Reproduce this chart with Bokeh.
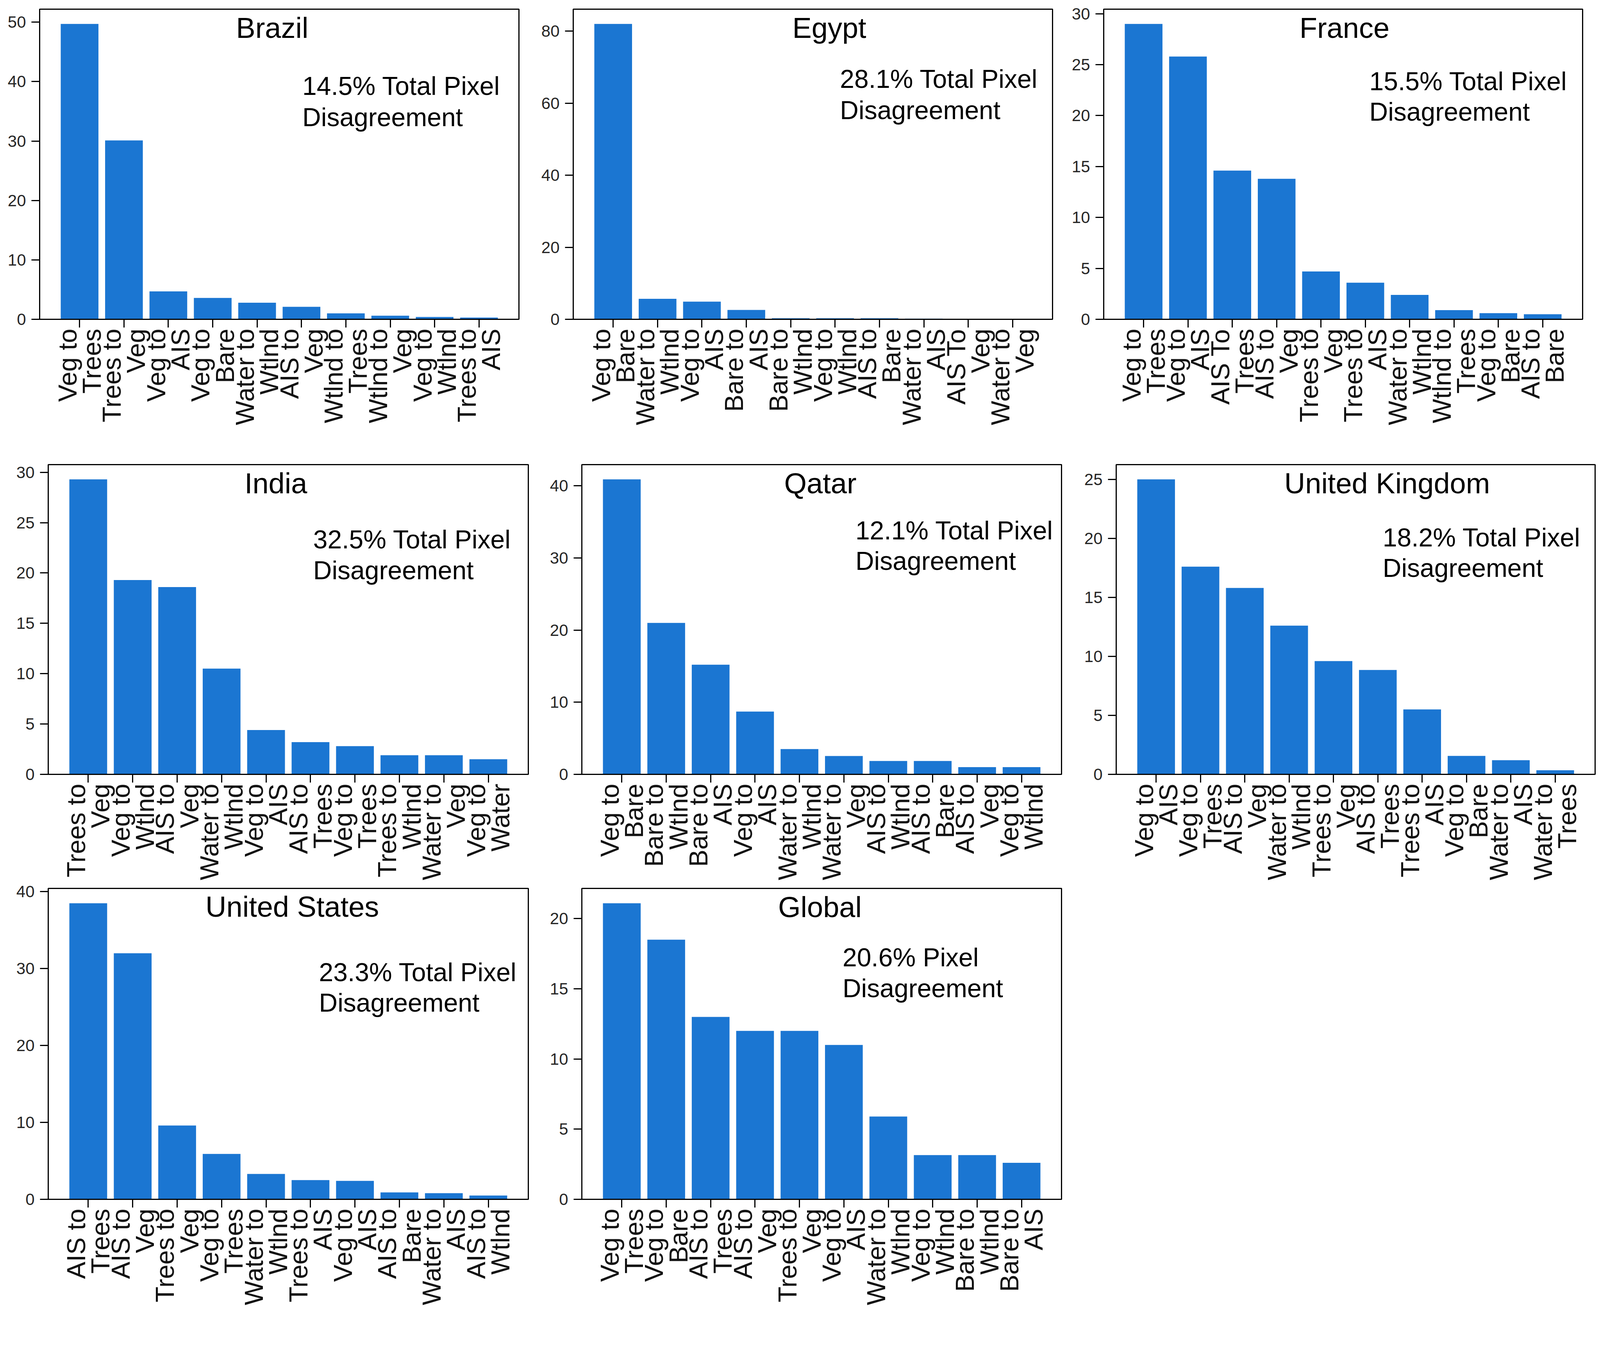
from math import pi

from bokeh.embed import file_html
from bokeh.layouts import column, row
from bokeh.models import FactorRange, Label, Range1d, SingleIntervalTicker
from bokeh.plotting import figure
from bokeh.resources import INLINE

BLUE = "#1b76d2"
FONT = "Liberation Sans"
SCALE = 0.969  # the page came out a little larger than planned; shrink the geometry

# --- data (percent of disagreeing pixels) ---
brazil_labels = ["Veg to\nTrees", "Trees to\nVeg", "Veg to\nAIS", "Veg to\nBare", "Water to\nWtlnd",
                 "AIS to\nVeg", "Wtlnd to\nTrees", "Wtlnd to\nVeg", "Veg to\nWtlnd", "Trees to\nAIS"]
brazil_values = [49.7, 30.1, 4.7, 3.6, 2.8, 2.1, 1.0, 0.6, 0.4, 0.3]

egypt_labels = ["Veg to\nBare", "Water to\nWtlnd", "Veg to\nAIS", "Bare to\nAIS", "Bare to\nWtlnd",
                "Veg to\nWtlnd", "AIS to\nBare", "Water to\nAIS", "AIS To\nVeg", "Water to\nVeg"]
egypt_values = [82.0, 5.7, 4.9, 2.6, 0.3, 0.3, 0.3, 0.2, 0.0, 0.0]

france_labels = ["Veg to\nTrees", "Veg to\nAIS", "AIS To\nTrees", "AIS to\nVeg", "Trees to\nVeg",
                 "Trees to\nAIS", "Water to\nWtlnd", "Wtlnd to\nTrees", "Veg to\nBare", "AIS to\nBare"]
france_values = [29.0, 25.8, 14.6, 13.8, 4.7, 3.6, 2.4, 0.9, 0.6, 0.5]

india_labels = ["Trees to\nVeg", "Veg to\nWtlnd", "AIS to\nVeg", "Water to\nWtlnd", "Veg to\nAIS",
                "AIS to\nTrees", "Veg to\nTrees", "Trees to\nWtlnd", "Water to\nVeg", "Veg to\nWater"]
india_values = [29.3, 19.3, 18.6, 10.5, 4.4, 3.2, 2.8, 1.9, 1.9, 1.5]

qatar_labels = ["Veg to\nBare", "Bare to\nWtlnd", "Bare to\nAIS", "Veg to\nAIS", "Water to\nWtlnd",
                "Water to\nVeg", "AIS to\nWtlnd", "AIS to\nBare", "AIS to\nVeg", "Veg to\nWtlnd"]
qatar_values = [40.9, 21.0, 15.2, 8.7, 3.5, 2.55, 1.85, 1.85, 1.0, 1.0]

uk_labels = ["Veg to\nAIS", "Veg to\nTrees", "AIS to\nVeg", "Water to\nWtlnd", "Trees to\nVeg",
             "AIS to\nTrees", "Trees to\nAIS", "Veg to\nBare", "Water to\nAIS", "Water to\nTrees"]
uk_values = [25.0, 17.6, 15.8, 12.6, 9.6, 8.85, 5.5, 1.56, 1.2, 0.35]

us_labels = ["AIS to\nTrees", "AIS to\nVeg", "Trees to\nVeg", "Veg to\nTrees", "Water to\nWtlnd",
             "Trees to\nAIS", "Veg to\nAIS", "AIS to\nBare", "Water to\nAIS", "AIS to\nWtlnd"]
us_values = [38.5, 32.0, 9.6, 5.9, 3.3, 2.5, 2.4, 0.9, 0.8, 0.5]

global_labels = ["Veg to\nTrees", "Veg to\nBare", "AIS to\nTrees", "AIS to\nVeg", "Trees to\nVeg",
                 "Veg to\nAIS", "Water to\nWtlnd", "Veg to\nWtlnd", "Bare to\nWtlnd", "Bare to\nAIS"]
global_values = [21.1, 18.5, 13.0, 12.0, 12.0, 11.0, 5.9, 3.15, 3.15, 2.6]

titles = ["Brazil", "Egypt", "France", "India", "Qatar", "United Kingdom", "United States", "Global"]
notes = [("14.5% Total Pixel", "Disagreement"), ("28.1% Total Pixel", "Disagreement"),
         ("15.5% Total Pixel", "Disagreement"), ("32.5% Total Pixel", "Disagreement"),
         ("12.1% Total Pixel", "Disagreement"), ("18.2% Total Pixel", "Disagreement"),
         ("23.3% Total Pixel", "Disagreement"), ("20.6% Pixel", "Disagreement")]
tick_steps = [10, 20, 5, 5, 10, 5, 10, 5]

series = [(brazil_labels, brazil_values), (egypt_labels, egypt_values), (france_labels, france_values),
          (india_labels, india_values), (qatar_labels, qatar_values), (uk_labels, uk_values),
          (us_labels, us_values), (global_labels, global_values)]

# --- layout: (width, height, left, right, top, bottom) of each figure ---
geometry = [
    (1410, 1190, 104, 39, 24, 347), (1399, 1190, 104, 29, 24, 347), (1423, 1190, 106, 52, 24, 347),
    (1430, 1142, 127, 35, 37, 287), (1410, 1142, 106, 36, 37, 287), (1392, 1142, 108, 19, 37, 287),
    (1430, 1168, 127, 35, 14, 332), (1410, 1168, 106, 36, 14, 332),
]
# title x (factor coords), title y (fraction), note x, note line y fractions
text_pos = [
    (4.84, 0.940, 5.52, 0.752, 0.652), (5.37, 0.940, 5.61, 0.775, 0.675), (5.03, 0.940, 5.59, 0.768, 0.669),
    (4.72, 0.940, 5.56, 0.758, 0.659), (4.97, 0.940, 5.76, 0.788, 0.689), (5.71, 0.940, 5.61, 0.765, 0.666),
    (5.09, 0.941, 5.69, 0.731, 0.633), (4.96, 0.940, 5.47, 0.778, 0.679),
]


def make_panel(i):
    labels, values = series[i]
    w, h, left, right, top, bottom = [int(round(v * SCALE)) for v in geometry[i]]
    ytop = max(values) * 1.05
    p = figure(width=w, height=h, output_backend="svg", toolbar_location=None,
               x_range=FactorRange(factors=labels, range_padding=0.4, range_padding_units="absolute"),
               y_range=Range1d(0, ytop),
               min_border_left=left, min_border_right=right, min_border_top=top, min_border_bottom=bottom)
    p.vbar(x=labels, top=values, width=0.85, fill_color=BLUE, line_color=None)

    p.xgrid.visible = False
    p.ygrid.visible = False
    p.outline_line_color = "black"
    p.outline_line_width = 3
    p.background_fill_color = "white"
    p.border_fill_color = "white"

    p.yaxis.ticker = SingleIntervalTicker(interval=tick_steps[i], num_minor_ticks=0)
    for ax in [p.xaxis, p.yaxis]:
        ax.axis_line_width = 3
        ax.axis_line_color = "black"
        ax.major_tick_line_width = 3
        ax.major_tick_line_color = "black"
        ax.major_tick_in = 0
        ax.major_tick_out = 21
        ax.minor_tick_line_color = None
        ax.major_label_text_font = FONT
    p.yaxis.major_label_text_color = "#262626"
    p.xaxis.major_label_text_color = "#111111"
    p.yaxis.major_label_text_font_size = "42px"
    p.yaxis.major_label_standoff = 14
    p.xaxis.major_label_text_font_size = "66px"
    p.xaxis.major_label_text_line_height = 0.84
    p.xaxis.major_label_orientation = pi / 2
    p.xaxis.major_label_standoff = 3

    tx, ty, nx, n1, n2 = text_pos[i]
    p.add_layout(Label(x=tx, y=ty * ytop, text=titles[i], text_align="center", text_baseline="middle",
                       text_font=FONT, text_font_size="74px", text_color="black"))
    for line, fy in zip(notes[i], (n1, n2)):
        p.add_layout(Label(x=nx, y=fy * ytop, text=line, text_align="left", text_baseline="middle",
                           text_font=FONT, text_font_size="66px", text_color="black"))
    return p


panels = [make_panel(i) for i in range(8)]
layout = column(row(*panels[0:3], spacing=0), row(*panels[3:6], spacing=0),
                row(*panels[6:8], spacing=0), spacing=0)

open("out.html", "w").write(file_html(layout, INLINE))
